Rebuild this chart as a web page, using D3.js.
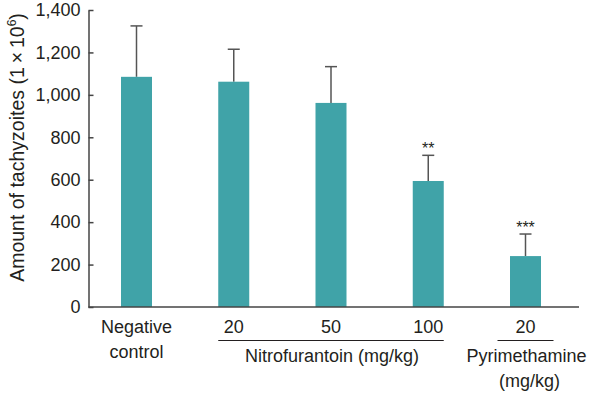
<!DOCTYPE html>
<html>
<head>
  <meta charset='utf-8'>
  <title>Amount of tachyzoites</title>
  <style>
    body { margin: 0; background: #fff; }
    svg { font-family: 'Liberation Sans', Arial, sans-serif; }
  </style>
  <script src='https://cdn.jsdelivr.net/npm/d3@7'></script>
</head>
<body>
  <svg id='chart' width='598' height='398'></svg>
  <script>
    // values
    const categories = ['neg', 'nitro20', 'nitro50', 'nitro100', 'pyri20'];
    const tickLabels = [['Negative', 'control'], ['20'], ['50'], ['100'], ['20']];
    const means = [1085, 1062, 962, 594, 240];
    const errors = [240, 153, 171, 121, 104];
    const stars = ['', '', '', '**', '***'];
    const groups = [
      { label: ['Nitrofurantoin (mg/kg)'], members: ['nitro20', 'nitro100'] },
      { label: ['Pyrimethamine', '(mg/kg)'], members: ['pyri20', 'pyri20'] }
    ];
    const yTicks = [0, 200, 400, 600, 800, 1000, 1200, 1400];

    const svg = d3.select('#chart');
    const axisX = 88.5;
    const axisRight = 579;
    const barWidth = 31;
    const barColor = '#40a3a8';
    const ink = '#231f20';

    const y = d3.scaleLinear().domain([0, 1400]).range([307, 10]);
    const x = d3.scalePoint().domain(categories).range([136.5, 525.5]);

    // y axis, ticks pointing inward
    const gY = svg.append('g')
      .attr('transform', `translate(${axisX},0)`)
      .call(d3.axisLeft(y)
        .tickValues(yTicks)
        .tickSizeInner(-5)
        .tickSizeOuter(0)
        .tickPadding(8)
        .tickFormat(d3.format(',')));
    gY.select('.domain').attr('stroke', '#444').attr('stroke-width', 1.5);
    gY.selectAll('.tick line').attr('stroke', '#444').attr('stroke-width', 1.5);
    gY.selectAll('.tick text')
      .attr('fill', ink)
      .style('font-size', '18px')
      .style('font-family', "'Liberation Sans', Arial, sans-serif");

    // y title
    svg.append('text')
      .attr('transform', `translate(24,${(y(0) + y(1400)) / 2 - 11}) rotate(-90)`)
      .attr('text-anchor', 'middle')
      .attr('fill', ink)
      .style('font-size', '19.5px')
      .html('Amount of tachyzoites (1\u2009\u00d7\u200910<tspan dy="-8" font-size="12px">6</tspan><tspan dy="8">)</tspan>');

    // error bars (upper only)
    const err = svg.append('g').attr('stroke', '#555').attr('stroke-width', 1.5);
    categories.forEach((c, i) => {
      err.append('line')
        .attr('x1', x(c)).attr('x2', x(c))
        .attr('y1', y(means[i])).attr('y2', y(means[i] + errors[i]));
      err.append('line')
        .attr('x1', x(c) - 6).attr('x2', x(c) + 6)
        .attr('y1', y(means[i] + errors[i])).attr('y2', y(means[i] + errors[i]));
    });

    // bars
    svg.append('g').selectAll('rect')
      .data(categories)
      .join('rect')
        .attr('x', d => x(d) - barWidth / 2)
        .attr('y', (d, i) => y(means[i]))
        .attr('width', barWidth)
        .attr('height', (d, i) => y(0) - y(means[i]))
        .attr('fill', barColor);

    // significance stars
    svg.append('g').selectAll('text')
      .data(categories)
      .join('text')
        .attr('x', d => x(d))
        .attr('y', (d, i) => y(means[i] + errors[i]) - 1)
        .attr('text-anchor', 'middle')
        .attr('fill', ink)
        .style('font-size', '16px')
        .text((d, i) => stars[i]);

    // x axis line
    svg.append('line')
      .attr('x1', axisX).attr('x2', axisRight)
      .attr('y1', y(0)).attr('y2', y(0))
      .attr('stroke', '#444').attr('stroke-width', 1.5);

    // category labels
    const labels = svg.append('g')
      .attr('fill', ink)
      .attr('text-anchor', 'middle')
      .style('font-size', '18px');
    categories.forEach((c, i) => {
      const t = labels.append('text').attr('x', x(c)).attr('y', 333);
      tickLabels[i].forEach((line, j) => {
        t.append('tspan').attr('x', x(c)).attr('dy', j === 0 ? 0 : 25).text(line);
      });
    });

    // group brackets
    groups.forEach(g => {
      let x0 = x(g.members[0]) - barWidth / 2;
      let x1 = x(g.members[1]) + barWidth / 2;
      const minW = 56;
      if (x1 - x0 < minW) {
        const mid = (x0 + x1) / 2;
        x0 = mid - minW / 2;
        x1 = mid + minW / 2;
      }
      svg.append('line')
        .attr('x1', x0).attr('x2', x1)
        .attr('y1', 340.5).attr('y2', 340.5)
        .attr('stroke', ink).attr('stroke-width', 1);
      const t = labels.append('text').attr('x', (x0 + x1) / 2 + 1).attr('y', 362);
      g.label.forEach((line, j) => {
        t.append('tspan').attr('x', (x0 + x1) / 2 + (j === 0 ? 1 : 4)).attr('dy', j === 0 ? 0 : 25).text(line);
      });
    });
  </script>
</body>
</html>
